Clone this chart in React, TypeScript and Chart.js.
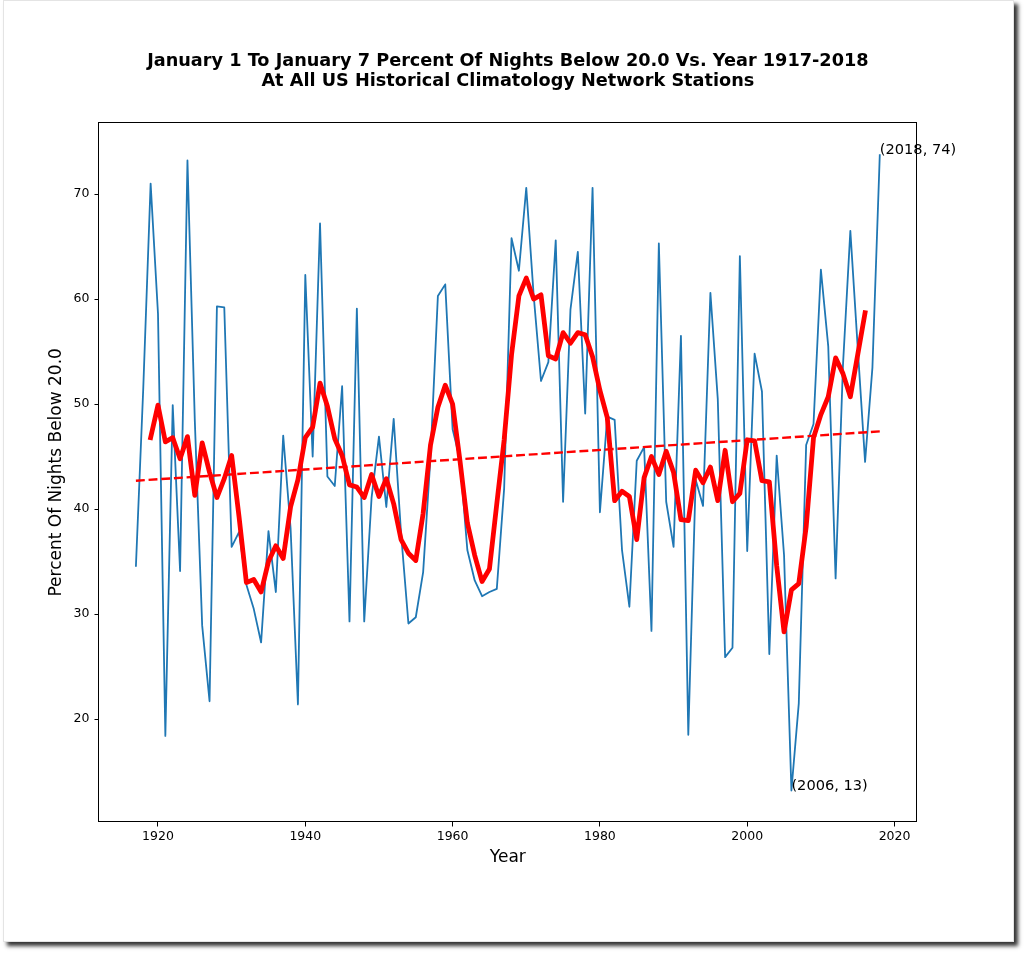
import { useEffect, useRef } from 'react';
import { Chart, registerables } from 'chart.js';

Chart.register(...registerables);

const FONT = "'DejaVu Sans', sans-serif";

const years = [
  1917, 1918, 1919, 1920, 1921, 1922, 1923, 1924, 1925, 1926,
  1927, 1928, 1929, 1930, 1931, 1932, 1933, 1934, 1935, 1936,
  1937, 1938, 1939, 1940, 1941, 1942, 1943, 1944, 1945, 1946,
  1947, 1948, 1949, 1950, 1951, 1952, 1953, 1954, 1955, 1956,
  1957, 1958, 1959, 1960, 1961, 1962, 1963, 1964, 1965, 1966,
  1967, 1968, 1969, 1970, 1971, 1972, 1973, 1974, 1975, 1976,
  1977, 1978, 1979, 1980, 1981, 1982, 1983, 1984, 1985, 1986,
  1987, 1988, 1989, 1990, 1991, 1992, 1993, 1994, 1995, 1996,
  1997, 1998, 1999, 2000, 2001, 2002, 2003, 2004, 2005, 2006,
  2007, 2008, 2009, 2010, 2011, 2012, 2013, 2014, 2015, 2016,
  2017, 2018,
];

// percent of nights below 20.0, one value per year
const nightsBelow = [
  34.5, 51.5, 71.0, 58.6, 18.4, 49.9, 34.1, 73.2, 48.4, 28.9,
  21.7, 59.3, 59.2, 36.4, 37.8, 32.8, 30.5, 27.3, 37.9, 32.1,
  47.0, 38.2, 21.4, 62.3, 45.0, 67.2, 43.1, 42.2, 51.7, 29.3,
  59.1, 29.3, 41.1, 46.9, 40.2, 48.6, 37.7, 29.1, 29.7, 34.0,
  45.0, 60.3, 61.4, 47.6, 44.7, 36.1, 33.2, 31.7, 32.1, 32.4,
  42.0, 65.8, 62.7, 70.6, 60.4, 52.2, 54.0, 65.6, 40.7, 59.0,
  64.5, 49.1, 70.6, 39.7, 48.8, 48.5, 36.1, 30.7, 44.6, 45.9,
  28.4, 65.3, 40.7, 36.4, 56.5, 18.5, 42.8, 40.3, 60.6, 50.5,
  25.9, 26.8, 64.1, 36.0, 54.8, 51.2, 26.2, 45.1, 35.6, 13.2,
  21.5, 46.1, 48.1, 62.8, 55.5, 33.4, 53.7, 66.5, 55.4, 44.5,
  53.5, 73.8,
];

// red smoothed line, 1919 to 2016
const avgYears = years.slice(2, 100);
const movingAverage = [
  46.8, 49.9, 46.4, 46.8, 44.8, 46.9, 41.3, 46.3, 43.5, 41.1,
  42.9, 45.1, 39.3, 33.0, 33.3, 32.1, 35.0, 36.5, 35.3, 40.2,
  42.8, 46.8, 47.8, 52.0, 49.8, 46.7, 45.1, 42.3, 42.1, 41.1,
  43.3, 41.2, 42.9, 40.5, 37.1, 35.8, 35.1, 39.6, 46.1, 49.7,
  51.8, 50.0, 44.6, 38.7, 35.6, 33.1, 34.3, 40.5, 46.6, 54.7,
  60.3, 62.0, 60.0, 60.4, 54.6, 54.3, 56.8, 55.8, 56.8, 56.6,
  54.5, 51.3, 48.7, 40.8, 41.7, 41.2, 37.1, 43.0, 45.0, 43.3,
  45.5, 43.5, 39.0, 38.9, 43.7, 42.5, 44.0, 40.8, 45.6, 40.7,
  41.5, 46.6, 46.5, 42.7, 42.6, 34.6, 28.3, 32.3, 32.9, 38.3,
  46.8, 49.0, 50.7, 54.4, 52.9, 50.7, 54.7, 58.7,
];

const trendYears = [1917, 2018];
const trendValues = [42.7, 47.4];

const xTicks = [1920, 1940, 1960, 1980, 2000, 2020];
const yTicks = [20, 30, 40, 50, 60, 70];
const labelYears = [2018, 2006];

const toPoints = (xs: number[], ys: number[]) => xs.map((x, i) => ({ x, y: ys[i] }));

const framePlugin = {
  id: 'frame',
  afterDraw(chart: any) {
    const { ctx, chartArea: a } = chart;
    ctx.save();
    ctx.strokeStyle = '#000';
    ctx.lineWidth = 1;
    ctx.strokeRect(
      Math.round(a.left) - 0.5,
      Math.round(a.top) + 0.5,
      Math.round(a.right - a.left),
      Math.round(a.bottom - a.top) - 1
    );
    ctx.restore();
  },
};

const pointLabels = {
  id: 'pointLabels',
  afterDatasetsDraw(chart: any) {
    const { ctx, scales } = chart;
    ctx.save();
    ctx.font = `14.6px ${FONT}`;
    ctx.fillStyle = '#000';
    ctx.textBaseline = 'alphabetic';
    ctx.textAlign = 'left';
    labelYears.forEach((yr) => {
      const v = nightsBelow[years.indexOf(yr)];
      ctx.fillText(`(${yr}, ${Math.round(v)})`, scales.x.getPixelForValue(yr), scales.y.getPixelForValue(v));
    });
    ctx.restore();
  },
};

export default function App() {
  const chartRef = useRef<HTMLCanvasElement>(null);
  const chartInstance = useRef<Chart | null>(null);

  useEffect(() => {
    if (!chartRef.current) return;
    const ctx = chartRef.current.getContext('2d');
    if (!ctx) return;

    if (chartInstance.current) {
      chartInstance.current.destroy();
      chartInstance.current = null;
    }

    chartInstance.current = new Chart(ctx, {
      type: 'line',
      data: {
        datasets: [
          {
            label: 'Trend',
            data: toPoints(trendYears, trendValues),
            borderColor: '#ff0000',
            borderWidth: 2.4,
            borderDash: [8.9, 3.8],
            pointRadius: 0,
            order: 1,
          },
          {
            label: '5 year mean',
            data: toPoints(avgYears, movingAverage),
            borderColor: '#ff0000',
            borderWidth: 4.8,
            borderJoinStyle: 'round',
            borderCapStyle: 'square',
            pointRadius: 0,
            order: 2,
          },
          {
            label: 'Percent',
            data: toPoints(years, nightsBelow),
            borderColor: '#1f77b4',
            borderWidth: 1.8,
            borderJoinStyle: 'round',
            pointRadius: 0,
            order: 3,
          },
        ],
      },
      options: {
        animation: false,
        responsive: false,
        events: [],
        layout: { padding: { left: 0, top: 0, right: 107, bottom: 0 } },
        plugins: {
          legend: { display: false },
          tooltip: { enabled: false },
          title: {
            display: true,
            fullSize: false,
            text: [
              'January 1 To January 7 Percent Of Nights Below 20.0 Vs. Year 1917-2018',
              'At All US Historical Climatology Network Stations',
            ],
            color: '#000',
            font: { family: FONT, size: 17.7, weight: 'bold', lineHeight: 1.16 },
            padding: { top: 50.8, bottom: 30.5 },
          },
        },
        scales: {
          x: {
            type: 'linear',
            min: 1911.95,
            max: 2023.05,
            afterBuildTicks: (s: any) => {
              s.ticks = xTicks.map((value) => ({ value }));
            },
            afterFit: (s: any) => {
              s.height = 130.7;
            },
            ticks: {
              callback: (v: any) => String(v),
              color: '#000',
              font: { family: FONT, size: 12.5 },
              padding: 3,
              maxRotation: 0,
              autoSkip: false,
            },
            grid: { drawOnChartArea: false, drawTicks: true, tickLength: 4.2, color: '#000' },
            border: { display: false },
            title: {
              display: true,
              text: 'Year',
              color: '#000',
              font: { family: FONT, size: 17 },
              padding: { top: 0, bottom: 85.5 },
            },
          },
          y: {
            min: 10.17,
            max: 76.83,
            afterBuildTicks: (s: any) => {
              s.ticks = yTicks.map((value) => ({ value }));
            },
            afterFit: (s: any) => {
              s.width = 98.7;
            },
            ticks: {
              callback: (v: any) => String(v),
              color: '#000',
              font: { family: FONT, size: 12.5 },
              padding: 5,
            },
            grid: { drawOnChartArea: false, drawTicks: true, tickLength: 4.2, color: '#000' },
            border: { display: false },
            title: {
              display: true,
              text: 'Percent Of Nights Below 20.0',
              color: '#000',
              font: { family: FONT, size: 17 },
              padding: { top: 46.8, bottom: 0 },
            },
          },
        },
      },
      plugins: [pointLabels, framePlugin],
    });

    return () => {
      if (chartInstance.current) {
        chartInstance.current.destroy();
        chartInstance.current = null;
      }
    };
  }, []);

  return (
    <div style={{ position: 'absolute', left: 0, top: 0, width: 1024, height: 953 }}>
      <div
        style={{
          position: 'absolute',
          left: 3,
          top: 0,
          width: 1011,
          height: 942,
          boxSizing: 'border-box',
          background: '#fff',
          border: '1px solid #e4e4e4',
          boxShadow: '4px 4px 4px rgba(0,0,0,0.8)',
        }}
      />
      <canvas ref={chartRef} width={1024} height={953} style={{ position: 'absolute', left: 0, top: 0 }}></canvas>
    </div>
  );
}
